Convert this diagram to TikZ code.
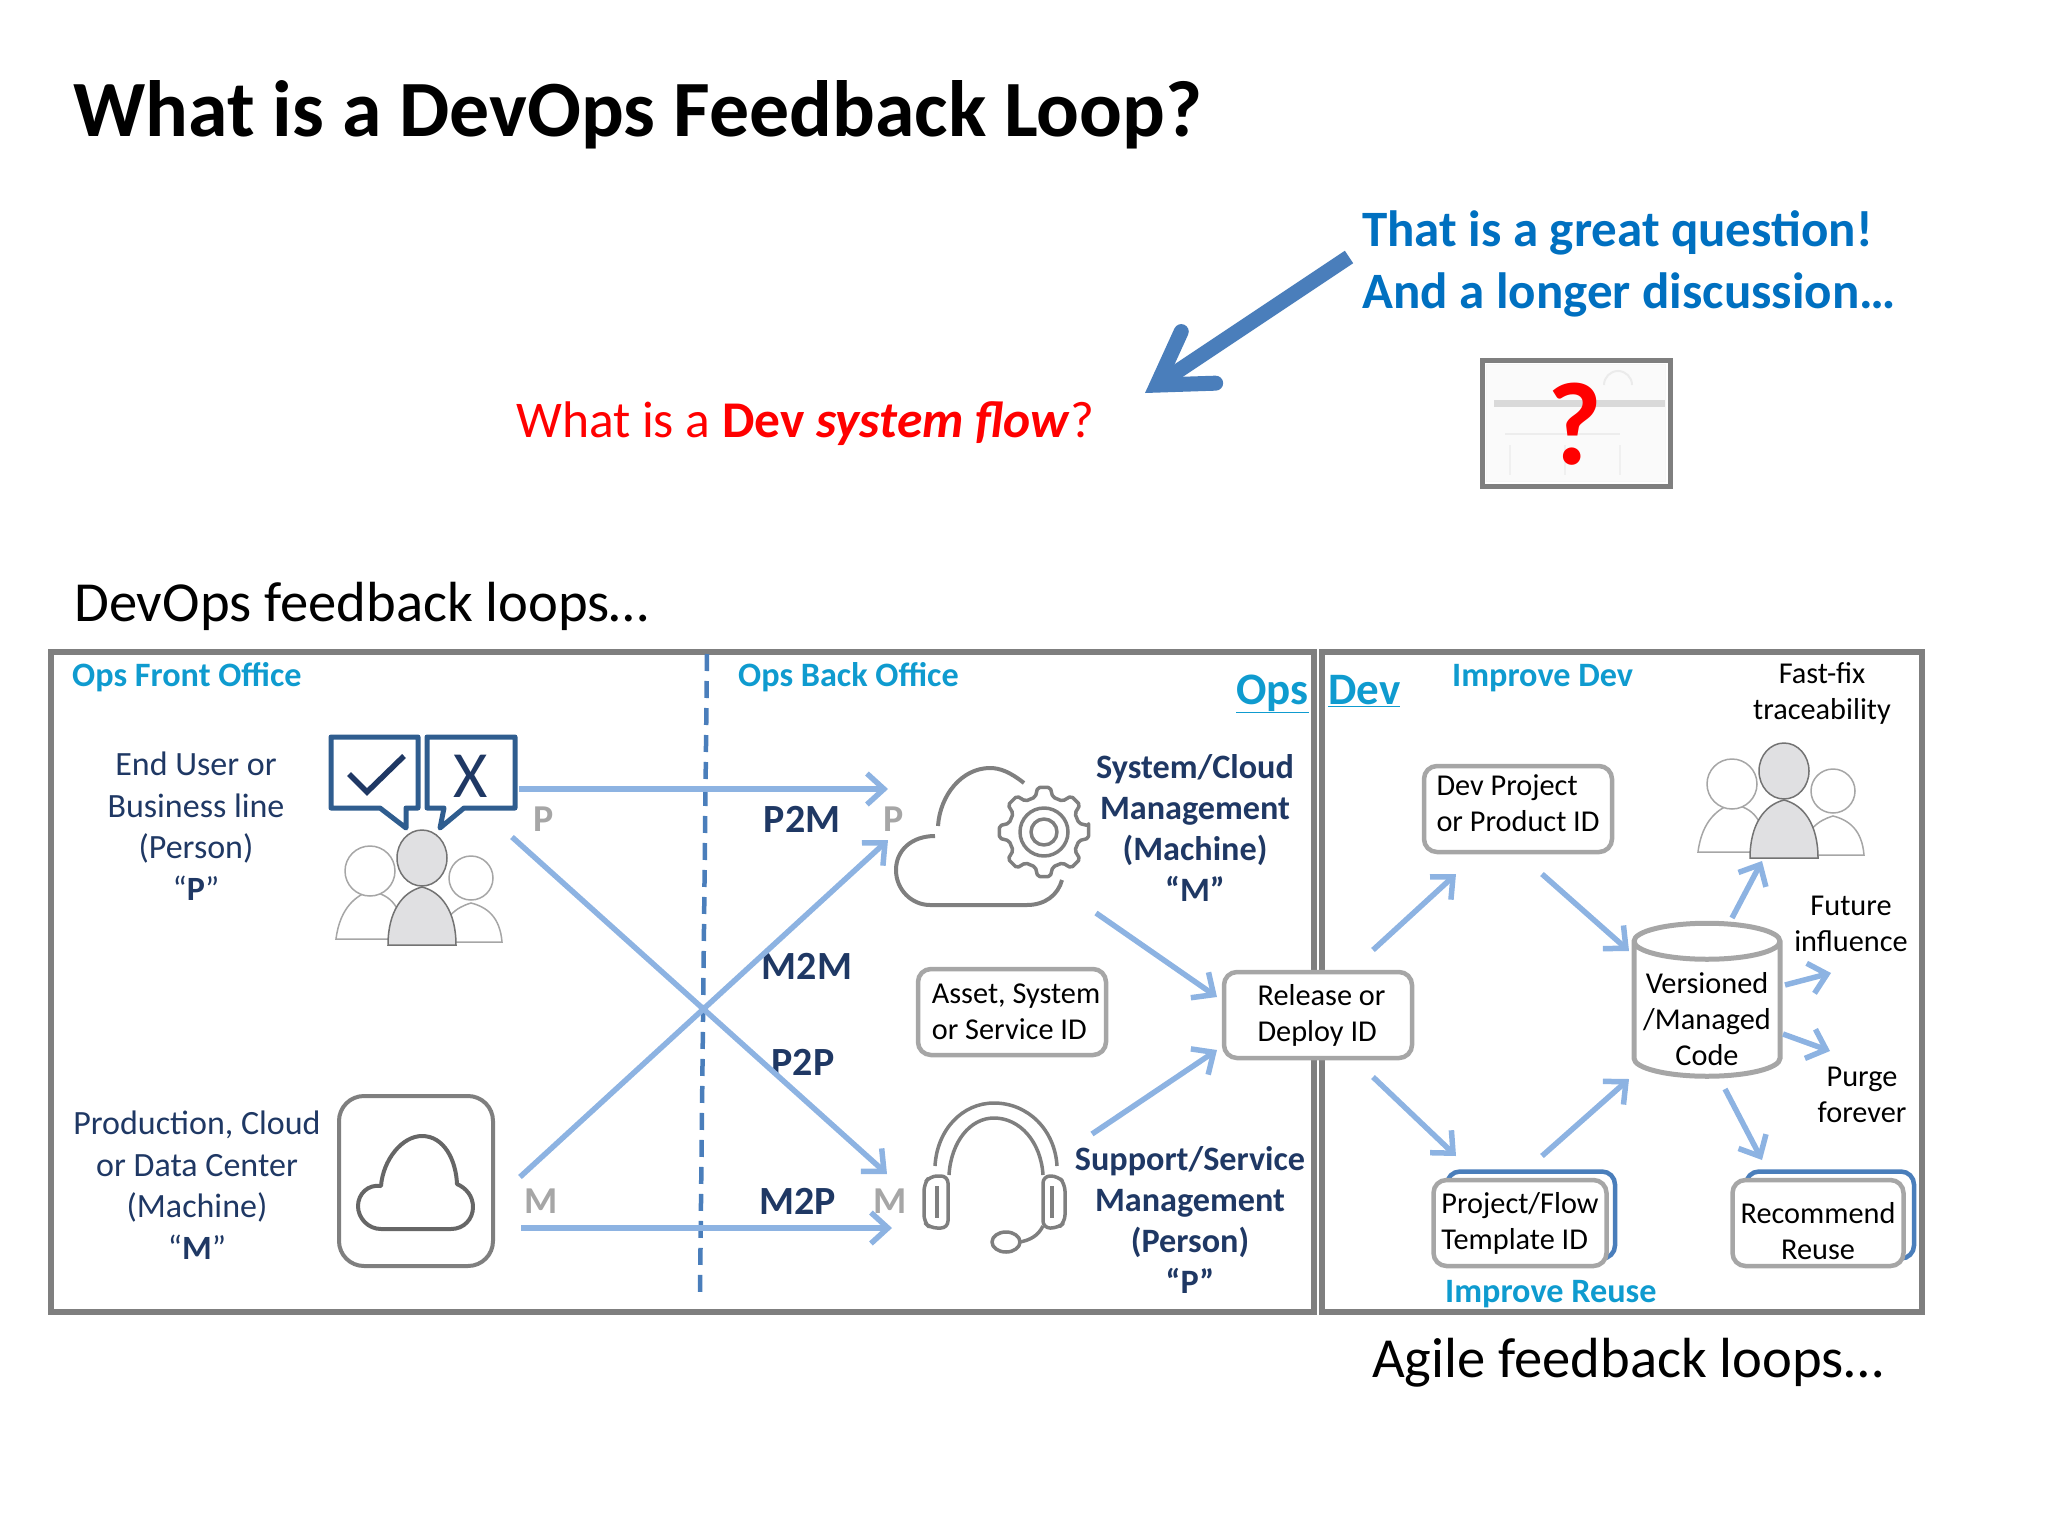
\documentclass[tikz,border=0pt]{standalone}
\usepackage{fontspec}
\setmainfont{Carlito}
\usetikzlibrary{arrows.meta,shapes.geometric}

\definecolor{headblue}{HTML}{0070C0}
\definecolor{officeblue}{HTML}{0F9BCF}
\definecolor{navy}{HTML}{1F3864}
\definecolor{flowblue}{HTML}{8DB3E2}
\definecolor{dashblue}{HTML}{4A7EBB}
\definecolor{framegray}{HTML}{7F7F7F}
\definecolor{boxgray}{HTML}{A6A6A6}
\definecolor{bubbleblue}{HTML}{2F5D8F}
\definecolor{iconfill}{HTML}{E0E0E2}

\tikzset{
  flow/.style={draw=flowblue,line width=5.5pt,-{Straight Barb[length=17pt,width=31pt,line width=5.5pt]}},
  frame/.style={draw=framegray,line width=6pt},
  office/.style={font=\bfseries\fontsize{34.2}{38}\selectfont,text=officeblue,inner sep=0pt,anchor=base west},
  sidetext/.style={font=\fontsize{34}{41.5}\selectfont,text=navy,align=center,inner sep=0pt},
  boldtext/.style={sidetext,font=\bfseries\fontsize{34.2}{41}\selectfont},
  flowtag/.style={font=\bfseries\fontsize{40}{40}\selectfont,text=navy,inner sep=0pt},
  endtag/.style={font=\bfseries\fontsize{38}{38}\selectfont,text=boxgray,inner sep=0pt},
  devtext/.style={font=\fontsize{30.3}{36}\selectfont,text=black,align=center,inner sep=0pt},
  idbox/.style={devtext,align=left,draw=boxgray,line width=4.5pt,fill=white,rounded corners=13pt},
  backbox/.style={draw=dashblue,line width=4.5pt,fill=white,rounded corners=13pt},
  icon/.style={draw=framegray,line width=3.5pt,line join=round},
  pics/people/.style={code={
    \draw[draw=black!35,line width=1.5pt,fill=white] (-86,72) .. controls (-82,40) and (-65,28) .. (-52,24)
      .. controls (-30,28) and (-20,40) .. (-18,72) -- cycle;
    \draw[draw=black!35,line width=1.5pt,fill=white] (-52,4) circle[radius=25];
    \draw[draw=black!35,line width=1.5pt,fill=white] (80,75) .. controls (78,50) and (65,40) .. (49,36)
      .. controls (35,40) and (20,50) .. (18,75) -- cycle;
    \draw[draw=black!35,line width=1.5pt,fill=white] (49,11) circle[radius=22];
    \draw[draw=black!55,line width=1.5pt,fill=iconfill] (-34,78) .. controls (-34,45) and (-20,25) .. (0,20)
      .. controls (20,25) and (34,45) .. (34,78) -- cycle;
    \draw[draw=black!55,line width=1.5pt,fill=iconfill] (0,-9) circle[x radius=25,y radius=28];
  }}
}

\begin{document}
\begin{tikzpicture}[x=1pt,y=-1pt]
  \useasboundingbox (0,0) rectangle (2048,1536);

  \node[font=\bfseries\fontsize{79.8}{80}\selectfont,inner sep=0pt,anchor=base west] (title) at (73,136) {What is a DevOps Feedback Loop?};

  % question part
  \node[font=\bfseries\fontsize{51}{62}\selectfont,text=headblue,align=left,inner sep=0pt,anchor=north west] (answer) at (1362,210)
    {That is a great question!\\And a longer discussion…};
  \node[font=\fontsize{51.5}{52}\selectfont,text=red,inner sep=0pt,anchor=base west] (question) at (516,437)
    {What is a \textbf{Dev \textit{system flow}}?};
  \coordinate (answerout) at (1349,257);
  \coordinate (questionin) at (1145,393);
  \draw[draw=dashblue,line width=15pt,-{Straight Barb[length=50pt,width=62pt,line width=15pt,line cap=round]}] (answerout) -- (questionin);

  \draw[draw=black!3,fill=black!2] (1486,364) rectangle (1665,481);
  \draw[draw=black!15,line width=7pt] (1494,403) -- (1665,403);
  \draw[draw=black!7,line width=2pt] (1505,434) -- (1620,434);
  \draw[draw=black!8,line width=2pt] (1604,385) arc[start angle=180,end angle=360,radius=14];
  \foreach \x in {1510,1565,1620}
    \draw[draw=black!6,line width=2pt] (\x,445) -- ++(0,30);
  \draw[draw=framegray,line width=5pt] (1482,360) rectangle (1670,486);
  \node[font=\bfseries\fontsize{118}{118}\selectfont,text=red,inner sep=0pt] (mark) at (1575,424) {?};

  % section titles
  \node[font=\fontsize{56.6}{56}\selectfont,inner sep=0pt,anchor=base west] (opstitle) at (74,621) {DevOps feedback loops…};
  \node[font=\fontsize{56.6}{56}\selectfont,inner sep=0pt,anchor=base west] (devtitle) at (1372,1377) {Agile feedback loops…};

  % frames
  \draw[frame] (51,652) rectangle (1314,1312);
  \draw[frame] (1322,652) rectangle (1922,1312);
  \draw[draw=dashblue,line width=4.5pt,dash pattern=on 17pt off 10pt] (707,654) -- (700,1294);

  \node[office] (frontoffice) at (72,686) {Ops Front Office};
  \node[office] (backoffice) at (738,686) {Ops Back Office};
  \node[office,font=\bfseries\fontsize{45}{45}\selectfont] (opslabel) at (1236,704) {\underline{Ops}};
  \node[office,font=\bfseries\fontsize{45}{45}\selectfont] (devlabel) at (1328,704) {\underline{Dev}};
  \node[office] (improvedev) at (1452,686) {Improve Dev};
  \node[office] (improvereuse) at (1445,1302) {Improve Reuse};

  % front office
  \node[sidetext] (enduser) at (196,826) {End User or\\Business line\\(Person)\\“\textbf{P}”};
  \node[sidetext] (production) at (197,1185) {Production, Cloud\\or Data Center\\(Machine)\\“\textbf{M}”};

  \pic (userpeople) at (422,867) {people};
  \draw[draw=bubbleblue,line width=5pt,line join=round,fill=white] (331,737) -- (418,737) -- (418,808) -- (406,808) -- (406,828) -- (380,808) -- (331,808) -- cycle;
  \draw[draw=bubbleblue,line width=5pt,line join=round,fill=white] (427,737) -- (515,737) -- (515,808) -- (464,808) -- (440,828) -- (444,808) -- (427,808) -- cycle;
  \draw[draw=navy,line width=5.5pt] (349,774) -- (367,792) -- (404,756);
  \node[font=\fontsize{66}{66}\selectfont,text=navy,inner sep=0pt] (xmark) at (471,776) {X};

  \draw[icon,draw=framegray,line width=4pt,rounded corners=25pt] (339,1096) rectangle (493,1266);
  \draw[icon,draw=black!60,line width=4pt] (381,1229) .. controls (368,1229) and (358,1218) .. (358,1206)
    .. controls (358,1194) and (368,1184) .. (381,1186) .. controls (383,1160) and (402,1136) .. (422,1136)
    .. controls (444,1136) and (456,1160) .. (457,1184) .. controls (466,1188) and (473,1196) .. (473,1207)
    .. controls (473,1219) and (464,1229) .. (451,1229) -- cycle;

  % back office
  \node[boldtext] (sysmgmt) at (1195,828) {System/Cloud\\Management\\(Machine)\\“M”};
  \node[boldtext] (supmgmt) at (1190,1220) {Support/Service\\Management\\(Person)\\“P”};

  \draw[icon,line width=4pt] (1024,783) .. controls (1010,772) and (1000,768) .. (990,768) .. controls (962,768) and (940,795) .. (938,826);
  \draw[icon,line width=4pt] (935,836) .. controls (912,836) and (896,850) .. (896,870) .. controls (896,890) and (912,905) .. (930,905)
    -- (1027,905) .. controls (1045,905) and (1058,895) .. (1062,880);
  \draw[icon,rounded corners=2pt,shift={(1044,832)}] (-8:45)
    \foreach \a in {0,45,...,315} { -- ({\a-8}:45) -- ({\a+8}:45) -- ({\a+14}:36) -- ({\a+31}:36) } -- cycle;
  \draw[icon] (1044,832) circle[radius=13] (1044,832) circle[radius=24];

  \draw[icon] (935,1166) .. controls (937,1130) and (962,1103) .. (994,1103) .. controls (1028,1103) and (1055,1130) .. (1057,1166);
  \draw[icon] (949,1175) .. controls (951,1142) and (970,1118) .. (994,1118) .. controls (1020,1118) and (1041,1142) .. (1043,1175);
  \draw[icon,rounded corners=7pt] (948,1176) -- (930,1176) -- (924,1184) -- (924,1222) -- (930,1228) -- (948,1228) -- cycle;
  \draw[icon,rounded corners=7pt] (1043,1176) -- (1058,1176) -- (1065,1184) -- (1065,1222) -- (1058,1228) -- (1043,1228) -- cycle;
  \draw[icon] (937,1186) -- (937,1218) (1052,1186) -- (1052,1218);
  \draw[icon] (1043,1226) .. controls (1038,1236) and (1030,1240) .. (1020,1242);
  \draw[icon] (1006,1242) circle[x radius=14,y radius=10];

  % flows in the ops part
  \node[endtag] (pleft) at (544,819) {P};
  \node[endtag] (mleft) at (541,1201) {M};
  \node[endtag] (pright) at (894,819) {P};
  \node[endtag] (mright) at (890,1201) {M};
  \node[flowtag] (ptwom) at (802,819) {P2M};
  \node[flowtag] (mtwom) at (807,966) {M2M};
  \node[flowtag] (ptwop) at (803,1062) {P2P};
  \node[flowtag] (mtwop) at (798,1201) {M2P};

  \coordinate (pstart) at (519,789);
  \coordinate (pstarttwo) at (512,837);
  \coordinate (mstart) at (520,1177);
  \coordinate (mstarttwo) at (521,1228);
  \coordinate (cloudin) at (888,789);
  \coordinate (cloudintwo) at (888,840);
  \coordinate (headin) at (887,1174);
  \coordinate (headintwo) at (892,1228);
  \draw[flow] (pstart) -- (cloudin);
  \draw[flow] (pstarttwo) -- (headin);
  \draw[flow] (mstart) -- (cloudintwo);
  \draw[flow] (mstarttwo) -- (headintwo);

  \node[idbox,minimum width=188pt,minimum height=86pt] (asset) at (1012,1012) {\hspace*{8pt}Asset, System\\\hspace*{8pt}or Service ID};
  \node[idbox,minimum width=188pt,minimum height=86pt] (release) at (1318,1015) {\hspace*{7pt}Release or\\\hspace*{7pt}Deploy ID};
  \coordinate (cloudout) at (1096,913);
  \coordinate (headout) at (1092,1134);
  \coordinate (releaseintop) at (1217,997);
  \coordinate (releaseinbot) at (1217,1050);
  \draw[flow] (cloudout) -- (releaseintop);
  \draw[flow] (headout) -- (releaseinbot);

  % dev part
  \node[idbox,minimum width=188pt,minimum height=86pt] (project) at (1518,809) {Dev Project\\or Product ID\rule[-11pt]{0pt}{11pt}};
  \node[backbox,minimum width=168pt,minimum height=87pt] (templateback) at (1531,1215) {};
  \node[idbox,minimum width=173pt,minimum height=86pt] (template) at (1520,1223) {Project/Flow\\Template ID};
  \node[backbox,minimum width=168pt,minimum height=87pt] (reuseback) at (1830,1215) {};
  \node[idbox,align=center,minimum width=171pt,minimum height=86pt] (reuse) at (1818,1223) {\rule{0pt}{38pt}Recommend\\Reuse};
  \node[cylinder,shape border rotate=90,aspect=0.3,draw=boxgray,line width=5pt,fill=white,minimum width=146pt,minimum height=153pt,inner sep=0pt] (code) at (1707,1010) {\phantom{\rule{120pt}{50pt}}};
  \node[devtext] (codetext) at (1707,1019) {Versioned\\/Managed\\Code};

  \pic (fixpeople) at (1784,780) {people};
  \node[devtext] (fastfix) at (1822,693) {Fast-fix\\traceability};
  \node[devtext] (future) at (1851,924) {Future\\influence};
  \node[devtext] (purge) at (1862,1095) {Purge\\forever};

  \coordinate (relup) at (1373,950);
  \coordinate (reldown) at (1373,1077);
  \coordinate (projin) at (1456,874);
  \coordinate (projout) at (1542,874);
  \coordinate (tempin) at (1456,1156);
  \coordinate (tempout) at (1542,1156);
  \coordinate (codeintop) at (1629,951);
  \coordinate (codeinbot) at (1629,1079);
  \draw[flow] (relup) -- (projin);
  \draw[flow] (reldown) -- (tempin);
  \draw[flow] (projout) -- (codeintop);
  \draw[flow] (tempout) -- (codeinbot);

  \coordinate (codeouta) at (1732,918);
  \coordinate (codeoutb) at (1785,985);
  \coordinate (codeoutc) at (1783,1034);
  \coordinate (codeoutd) at (1725,1089);
  \coordinate (fixin) at (1762,861);
  \coordinate (futurein) at (1831,973);
  \coordinate (purgein) at (1830,1051);
  \coordinate (reusein) at (1762,1160);
  \draw[flow] (codeouta) -- (fixin);
  \draw[flow] (codeoutb) -- (futurein);
  \draw[flow] (codeoutc) -- (purgein);
  \draw[flow] (codeoutd) -- (reusein);
\end{tikzpicture}
\end{document}
